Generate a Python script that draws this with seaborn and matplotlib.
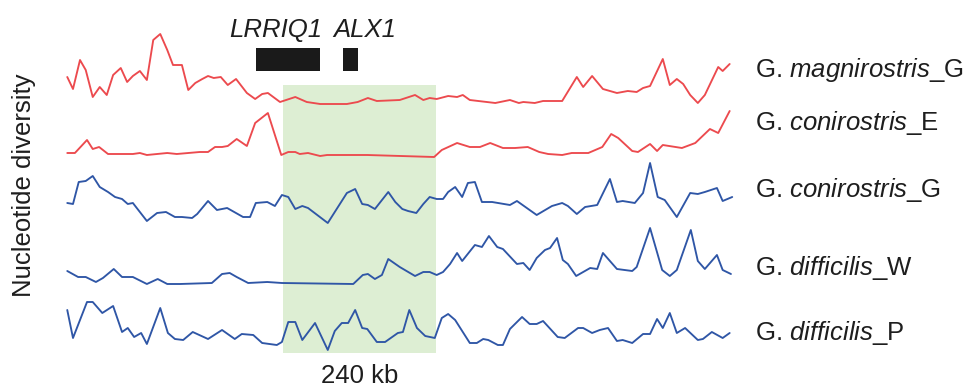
import matplotlib
matplotlib.use("Agg")
import matplotlib.pyplot as plt
from matplotlib.patches import Rectangle
import numpy as np
import pandas as pd
import seaborn as sns

# Nucleotide diversity along the LRRIQ1-ALX1 region (positions in kb, diversity in relative units)
mag_G_kb = [2, 11, 22, 31, 42, 53, 64, 74, 86, 96, 105, 116, 127, 137, 148, 159, 168, 182, 192, 203,
            214, 223, 232, 243, 254, 267, 284, 297, 308, 317, 336, 360, 378, 399, 441, 458, 474, 488,
            524, 548, 561, 571, 582, 600, 614, 623, 634, 674, 697, 711, 718, 736, 749, 779, 802, 812,
            826, 843, 865, 882, 896, 906, 917, 937, 948, 959, 969, 980, 992, 1003, 1024, 1031, 1042]
mag_G_pi = [1.40, 0.80, 2.25, 1.75, 0.40, 0.90, 0.50, 1.50, 1.85, 1.15, 1.45, 1.70, 1.25, 3.25, 3.55,
            2.75, 2.00, 2.00, 0.75, 1.10, 1.30, 1.45, 1.35, 1.40, 1.00, 1.30, 0.60, 0.30, 0.55, 0.60,
            0.15, 0.40, 0.15, 0.05, 0.05, 0.15, 0.35, 0.20, 0.25, 0.50, 0.25, 0.35, 0.30, 0.45, 0.40,
            0.50, 0.25, 0.10, 0.25, 0.10, 0.15, 0.10, 0.20, 0.20, 1.40, 0.90, 1.45, 0.80, 0.60, 0.70,
            0.65, 0.85, 0.95, 2.30, 1.00, 1.30, 1.05, 0.50, 0.10, 0.50, 1.90, 1.70, 2.05]

con_E_kb = [2, 14, 33, 42, 52, 66, 105, 116, 127, 159, 174, 210, 223, 234, 245, 254, 268, 284, 297,
            317, 338, 349, 360, 367, 380, 399, 410, 473, 578, 590, 614, 634, 650, 666, 686, 705, 725,
            743, 757, 779, 794, 820, 842, 856, 867, 889, 898, 917, 928, 937, 967, 988, 1011, 1024, 1042]
con_E_pi = [0.25, 0.25, 0.90, 0.45, 0.55, 0.20, 0.20, 0.25, 0.15, 0.25, 0.20, 0.30, 0.30, 0.55, 0.55,
            0.60, 0.95, 0.60, 1.75, 2.25, 0.15, 0.30, 0.30, 0.20, 0.25, 0.10, 0.15, 0.15, 0.05, 0.40,
            0.75, 0.55, 0.55, 0.75, 0.50, 0.50, 0.55, 0.30, 0.20, 0.15, 0.25, 0.25, 0.55, 1.20, 1.00,
            0.35, 0.30, 0.70, 0.35, 0.65, 0.50, 0.75, 1.45, 1.25, 2.35]

con_G_kb = [2, 11, 20, 31, 42, 53, 66, 77, 88, 97, 105, 127, 143, 157, 171, 182, 198, 206, 223, 237,
            253, 278, 289, 298, 316, 328, 339, 349, 360, 371, 380, 411, 441, 454, 465, 474, 485, 506,
            517, 528, 537, 550, 561, 571, 582, 592, 600, 611, 622, 631, 642, 653, 669, 697, 708, 739,
            763, 779, 788, 802, 815, 834, 854, 865, 874, 893, 906, 917, 929, 940, 959, 980, 992, 1003,
            1022, 1031, 1046]
con_G_pi = [1.05, 1.00, 2.10, 2.15, 2.40, 1.85, 1.60, 1.35, 1.25, 1.00, 1.05, 0.15, 0.55, 0.60, 0.35,
            0.35, 0.30, 0.50, 1.15, 0.70, 0.80, 0.35, 0.35, 1.05, 1.10, 0.90, 1.45, 1.35, 0.75, 0.90,
            0.80, 0.05, 1.55, 1.75, 1.00, 0.95, 0.75, 1.60, 1.10, 0.75, 0.65, 0.55, 1.00, 1.35, 1.25,
            1.25, 1.60, 1.85, 1.35, 2.05, 2.10, 1.10, 1.10, 0.95, 1.15, 0.45, 0.90, 1.05, 0.90, 0.50,
            0.85, 0.95, 2.25, 1.10, 1.15, 1.05, 1.55, 3.05, 1.35, 1.20, 0.35, 1.55, 1.50, 1.60, 1.80,
            1.15, 1.35]

dif_W_kb = [2, 19, 31, 47, 58, 75, 88, 105, 127, 144, 159, 179, 229, 245, 257, 268, 286, 316, 339,
            451, 466, 474, 485, 496, 506, 524, 532, 548, 561, 571, 582, 592, 603, 614, 622, 642, 653,
            664, 677, 686, 708, 718, 728, 739, 752, 760, 771, 780, 788, 801, 823, 834, 843, 865, 889,
            896, 917, 936, 948, 959, 981, 992, 1003, 1022, 1031, 1044]
dif_W_pi = [0.70, 0.40, 0.40, 0.15, 0.35, 0.80, 0.40, 0.40, 0.05, 0.30, 0.05, 0.05, 0.10, 0.55, 0.60,
            0.40, 0.10, 0.15, 0.10, 0.05, 0.50, 0.55, 0.30, 0.50, 1.30, 0.90, 0.75, 0.45, 0.65, 0.65,
            0.50, 0.65, 1.05, 1.60, 1.20, 2.00, 1.90, 2.45, 1.90, 1.80, 1.05, 1.10, 0.75, 1.35, 1.75,
            1.85, 2.35, 1.25, 1.05, 0.45, 0.85, 0.80, 1.60, 0.80, 0.70, 0.90, 2.85, 0.75, 0.45, 0.75,
            2.75, 1.20, 0.80, 1.50, 0.75, 0.55]

dif_P_kb = [2, 11, 33, 42, 57, 74, 88, 97, 107, 118, 127, 148, 160, 171, 184, 199, 223, 245, 265, 276,
            294, 308, 331, 339, 349, 360, 371, 391, 411, 422, 433, 443, 454, 465, 473, 488, 501, 521,
            529, 539, 551, 564, 579, 590, 600, 611, 634, 645, 655, 663, 678, 686, 697, 716, 728, 739,
            749, 772, 783, 804, 812, 826, 838, 851, 865, 874, 889, 906, 917, 928, 937, 948, 959, 972,
            992, 1000, 1014, 1031, 1042]
dif_P_pi = [2.05, 0.65, 2.45, 2.45, 1.90, 2.25, 0.95, 1.15, 0.70, 0.90, 0.35, 2.15, 0.90, 0.60, 0.55,
            0.95, 0.60, 1.05, 0.60, 0.85, 0.80, 0.40, 0.30, 0.45, 1.45, 1.45, 0.55, 1.40, 0.05, 1.00,
            1.40, 1.40, 2.05, 1.15, 1.10, 0.45, 0.45, 0.90, 0.95, 2.05, 1.15, 0.75, 0.65, 1.65, 1.85,
            1.55, 0.40, 0.40, 0.60, 0.55, 0.30, 0.30, 1.10, 1.70, 1.35, 1.35, 1.50, 0.70, 0.65, 1.15,
            1.15, 0.90, 1.05, 1.15, 0.50, 0.55, 0.40, 0.85, 0.85, 1.60, 1.15, 1.90, 0.90, 1.15, 0.55,
            0.60, 0.95, 0.65, 0.90]

populations = ["magnirostris_G", "conirostris_E", "conirostris_G", "difficilis_W", "difficilis_P"]
species = ["magnirostris", "conirostris", "conirostris", "difficilis", "difficilis"]
islands = ["G", "E", "G", "W", "P"]
series = [(mag_G_kb, mag_G_pi), (con_E_kb, con_E_pi), (con_G_kb, con_G_pi),
          (dif_W_kb, dif_W_pi), (dif_P_kb, dif_P_pi)]

# Sweep region and gene models (kb)
sweep_start, sweep_end = 341, 581
genes = ["LRRIQ1", "ALX1"]
gene_start = [298, 435]
gene_end = [399, 458]

# Layout: vertical stacking offset of each track
offsets = [14.1, 11.45, 8.15, 5.1, 1.8]
label_y = [15.5, 12.85, 9.5, 5.6, 2.35]
colors = ["#EC4A4E", "#EC4A4E", "#2F56A6", "#2F56A6", "#2F56A6"]

frames = []
for pop, (kb, pi), off in zip(populations, series, offsets):
    frames.append(pd.DataFrame({"population": pop, "kb": kb, "pi": pi,
                                "y": np.asarray(pi) + off}))
df = pd.concat(frames, ignore_index=True)

sns.set_style("white")
plt.rcParams["font.family"] = ["Liberation Sans", "DejaVu Sans"]
plt.rcParams["mathtext.fontset"] = "custom"
plt.rcParams["mathtext.rm"] = "Liberation Sans"
plt.rcParams["mathtext.it"] = "Liberation Sans:italic"

fig = plt.figure(figsize=(9.67, 3.87), dpi=100)
ax = fig.add_axes([0, 0, 1, 1])
ax.set_xlim(-103.6, 1414.6)
ax.set_ylim(0, 19.35)

ax.axvspan(sweep_start, sweep_end, ymin=1.7 / 19.35, ymax=15.1 / 19.35,
           color="#DDEEd3", lw=0, zorder=0)

sns.lineplot(data=df, x="kb", y="y", hue="population", palette=dict(zip(populations, colors)),
             hue_order=populations, estimator=None, sort=False, linewidth=1.35,
             legend=False, ax=ax, zorder=2)

txt = "#1e1e1e"
for g, s, e in zip(genes, gene_start, gene_end):
    ax.add_patch(Rectangle((s, 15.78), e - s, 1.17, facecolor="#1a1a1a", edgecolor="none", zorder=3))
ax.text(256, 17.5, genes[0], fontsize=18.5, style="italic", color=txt, va="baseline", ha="left")
ax.text(419, 17.5, genes[1], fontsize=18.5, style="italic", color=txt, va="baseline", ha="left")

for sp, isl, ly in zip(species, islands, label_y):
    ax.text(1082, ly, "G. $\\mathit{" + sp + "}$_" + isl, fontsize=18.5, color=txt,
            va="baseline", ha="left")

ax.text((sweep_start + sweep_end) / 2, 0.2, "240 kb", fontsize=18.5, color=txt,
        va="baseline", ha="center")
ax.text(-66, 10.1, "Nucleotide diversity", fontsize=18.5, color=txt, rotation=90,
        va="center", ha="center")

ax.axis("off")
fig.savefig("out.png", dpi=100, facecolor="white")
